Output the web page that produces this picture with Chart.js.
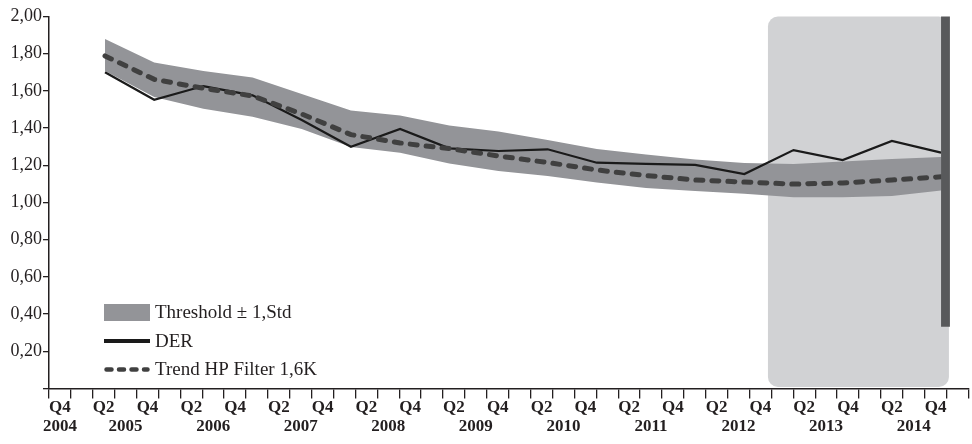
<!DOCTYPE html>
<html>
<head>
<meta charset="utf-8">
<script src="https://cdn.jsdelivr.net/npm/chart.js@4.4.1/dist/chart.umd.min.js"></script>
<style>
  html, body { margin: 0; padding: 0; background: #ffffff; }
  #wrap { width: 972px; height: 444px; }
</style>
</head>
<body>
<div id="wrap"><canvas id="der" width="972" height="444"></canvas></div>
<script>
// Quarterly categories of the time axis
const periods = [
  '2004 Q4',
  '2005 Q1','2005 Q2','2005 Q3','2005 Q4',
  '2006 Q1','2006 Q2','2006 Q3','2006 Q4',
  '2007 Q1','2007 Q2','2007 Q3','2007 Q4',
  '2008 Q1','2008 Q2','2008 Q3','2008 Q4',
  '2009 Q1','2009 Q2','2009 Q3','2009 Q4',
  '2010 Q1','2010 Q2','2010 Q3','2010 Q4',
  '2011 Q1','2011 Q2','2011 Q3','2011 Q4',
  '2012 Q1','2012 Q2','2012 Q3','2012 Q4',
  '2013 Q1','2013 Q2','2013 Q3','2013 Q4',
  '2014 Q1','2014 Q2','2014 Q3','2014 Q4',
  '2015 Q1'
];

// Two rows of tick labels: quarter names and years
const quarterRow = [
  'Q4',
  '', 'Q2', '', 'Q4',
  '', 'Q2', '', 'Q4',
  '', 'Q2', '', 'Q4',
  '', 'Q2', '', 'Q4',
  '', 'Q2', '', 'Q4',
  '', 'Q2', '', 'Q4',
  '', 'Q2', '', 'Q4',
  '', 'Q2', '', 'Q4',
  '', 'Q2', '', 'Q4',
  '', 'Q2', '', 'Q4',
  ''
];
const yearRow = [
  '2004',
  '', '', '2005', '',
  '', '', '2006', '',
  '', '', '2007', '',
  '', '', '2008', '',
  '', '', '2009', '',
  '', '', '2010', '',
  '', '', '2011', '',
  '', '', '2012', '',
  '', '', '2013', '',
  '', '', '2014', '',
  ''
];

// Observations (half-yearly steps)
const derValues   = [1.700, 1.552, 1.626, 1.576, 1.444, 1.300, 1.395, 1.291, 1.277, 1.286, 1.214, 1.208, 1.202, 1.153, 1.282, 1.228, 1.331, 1.268];
const trendValues = [1.788, 1.662, 1.614, 1.573, 1.476, 1.365, 1.320, 1.290, 1.250, 1.215, 1.175, 1.145, 1.121, 1.110, 1.099, 1.105, 1.121, 1.138];
const bandUpper   = [1.879, 1.753, 1.707, 1.672, 1.583, 1.494, 1.468, 1.414, 1.382, 1.336, 1.288, 1.258, 1.231, 1.212, 1.207, 1.220, 1.234, 1.245];
const bandLower   = [1.707, 1.567, 1.504, 1.461, 1.395, 1.298, 1.268, 1.210, 1.169, 1.142, 1.108, 1.078, 1.062, 1.047, 1.028, 1.028, 1.035, 1.065];

// Forecast window and end-of-sample marker, in observation steps / y units
const forecastWindow = { from: 13.48, to: 17.16, top: 2.0, bottom: 0 };
const sampleMarker = { from: 17.0, to: 17.18, top: 2.0, bottom: 0.332 };

const toPoints = arr => arr.map((v, i) => ({ x: i, y: v }));

const BAND = '#939498';
const SHADE = '#d1d2d4';
const MARKER = '#58595b';
const INK = '#231f20';
const SERIF = '"Liberation Serif", "Times New Roman", serif';

// Light rounded box behind the series for the forecast period
const forecastShade = {
  id: 'forecastShade',
  beforeDatasetsDraw(chart, args, opts) {
    const xd = chart.scales.xd, y = chart.scales.y, ctx = chart.ctx;
    const l = xd.getPixelForValue(opts.from), r = xd.getPixelForValue(opts.to);
    const t = y.getPixelForValue(opts.top), b = y.getPixelForValue(opts.bottom) - 1.5;
    ctx.save();
    ctx.fillStyle = SHADE;
    ctx.beginPath();
    ctx.roundRect(l, t, r - l, b - t, 10);
    ctx.fill();
    ctx.restore();
  }
};

// Dark vertical bar marking the end of the sample
const endMarker = {
  id: 'endMarker',
  afterDatasetsDraw(chart, args, opts) {
    const xd = chart.scales.xd, y = chart.scales.y, ctx = chart.ctx;
    const l = xd.getPixelForValue(opts.from), r = xd.getPixelForValue(opts.to);
    const t = y.getPixelForValue(opts.top), b = y.getPixelForValue(opts.bottom);
    ctx.save();
    ctx.fillStyle = MARKER;
    ctx.fillRect(l, t, r - l, b - t);
    ctx.restore();
  }
};

// Legend drawn inside the plot, lower left
const insideLegend = {
  id: 'insideLegend',
  afterDraw(chart, args, opts) {
    const ctx = chart.ctx;
    const x0 = chart.chartArea.left + opts.offsetX;
    let yc = opts.firstRow;
    const w = opts.swatch;
    ctx.save();
    ctx.font = opts.font;
    ctx.fillStyle = INK;
    ctx.textBaseline = 'middle';
    ctx.textAlign = 'left';
    opts.items.forEach(item => {
      if (item.kind === 'box') {
        ctx.fillStyle = BAND;
        ctx.fillRect(x0, yc - 8.5, w, 17);
      } else {
        ctx.strokeStyle = item.color;
        ctx.lineWidth = item.width;
        ctx.lineCap = item.dash ? 'round' : 'butt';
        ctx.setLineDash(item.dash || []);
        ctx.beginPath();
        ctx.moveTo(x0 + (item.dash ? 2.5 : 0), yc);
        ctx.lineTo(x0 + w - (item.dash ? 2.5 : 0), yc);
        ctx.stroke();
        ctx.setLineDash([]);
      }
      ctx.fillStyle = INK;
      ctx.fillText(item.text, x0 + w + 5, yc + 1);
      yc += opts.rowGap;
    });
    ctx.restore();
  }
};

new Chart(document.getElementById('der'), {
  type: 'line',
  data: {
    labels: periods,
    datasets: [
      {
        label: 'Threshold ± 1,Std',
        data: toPoints(bandUpper),
        xAxisID: 'xd',
        borderWidth: 0,
        pointRadius: 0,
        backgroundColor: BAND,
        fill: '+1',
        order: 3
      },
      {
        label: 'lower',
        data: toPoints(bandLower),
        xAxisID: 'xd',
        borderWidth: 0,
        pointRadius: 0,
        fill: false,
        order: 3
      },
      {
        label: 'DER',
        data: toPoints(derValues),
        xAxisID: 'xd',
        borderColor: '#1a1a1a',
        borderWidth: 2.2,
        pointRadius: 0,
        fill: false,
        tension: 0,
        order: 2
      },
      {
        label: 'Trend HP Filter 1,6K',
        data: toPoints(trendValues),
        xAxisID: 'xd',
        borderColor: '#404040',
        borderWidth: 5,
        borderDash: [7, 9],
        borderCapStyle: 'round',
        pointRadius: 0,
        fill: false,
        tension: 0,
        order: 1
      }
    ]
  },
  options: {
    responsive: false,
    animation: false,
    events: [],
    layout: { padding: { top: 16.5, right: 3.6, left: 0, bottom: 0 } },
    plugins: {
      legend: { display: false },
      tooltip: { enabled: false },
      forecastShade: forecastWindow,
      endMarker: sampleMarker,
      insideLegend: {
        offsetX: 55,
        firstRow: 312.5,
        rowGap: 28.5,
        swatch: 46,
        font: '19px ' + SERIF,
        items: [
          { kind: 'box', text: 'Threshold ± 1,Std' },
          { kind: 'line', text: 'DER', color: '#1a1a1a', width: 4 },
          { kind: 'line', text: 'Trend HP Filter 1,6K', color: '#404040', width: 4.5, dash: [5, 7.5] }
        ]
      }
    },
    scales: {
      x: {
        type: 'category',
        offset: true,
        grid: { offset: true, drawOnChartArea: false, drawTicks: true, tickLength: 10, color: INK, lineWidth: 1.3 },
        border: { display: true, color: INK, width: 1.5 },
        ticks: {
          autoSkip: false,
          maxRotation: 0,
          minRotation: 0,
          padding: 0,
          color: INK,
          font: { family: SERIF, size: 17, weight: 'bold', lineHeight: 1.12 },
          callback: (v, i) => [quarterRow[i], yearRow[i]]
        },
        afterFit: s => { s.height = 55.5; }
      },
      xd: {
        type: 'linear',
        display: false,
        min: -1.139,
        max: 17.556
      },
      y: {
        min: 0,
        max: 2,
        grid: { drawOnChartArea: false, drawTicks: true, tickLength: 6, color: INK, lineWidth: 1.3 },
        border: { display: true, color: INK, width: 1.5 },
        ticks: {
          stepSize: 0.2,
          padding: 1,
          color: INK,
          font: { family: SERIF, size: 18 },
          callback: v => (Math.abs(v) < 1e-9 ? '' : v.toFixed(2).replace('.', ','))
        },
        afterFit: s => { s.width = 49; }
      }
    }
  },
  plugins: [forecastShade, endMarker, insideLegend]
});
</script>
</body>
</html>
